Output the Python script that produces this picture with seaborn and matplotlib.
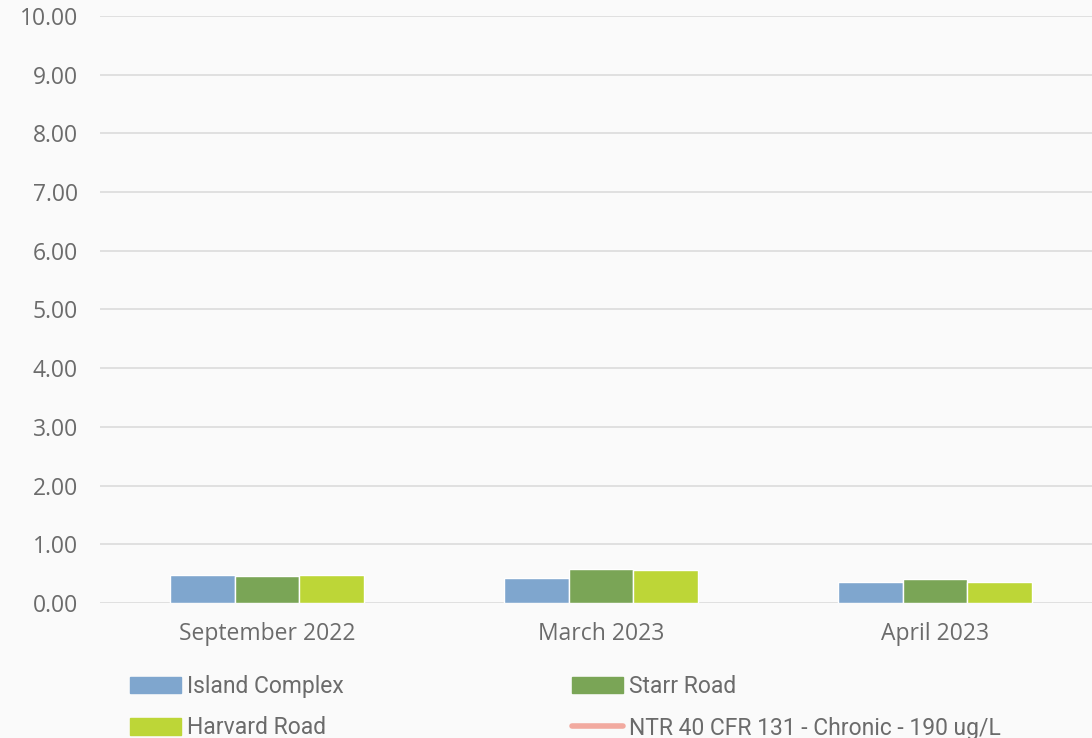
import matplotlib
matplotlib.use("Agg")
import matplotlib.pyplot as plt
import seaborn as sns
import pandas as pd
from matplotlib.patches import Patch
from matplotlib.lines import Line2D

categories = ["September 2022", "March 2023", "April 2023"]
series_names = ["Island Complex", "Starr Road", "Harvard Road"]
island_complex = [0.48, 0.43, 0.36]
starr_road = [0.46, 0.58, 0.41]
harvard_road = [0.47, 0.57, 0.35]
ntr_label = "NTR 40 CFR 131 - Chronic - 190 ug/L"
ntr_value = 190
colors = ["#7fa6ce", "#7aa556", "#bdd637"]
ntr_color = "#f2aaa0"
yticks = [0, 1, 2, 3, 4, 5, 6, 7, 8, 9, 10]

rows = []
for name, vals in zip(series_names, [island_complex, starr_road, harvard_road]):
    for c, v in zip(categories, vals):
        rows.append({"cat": c, "series": name, "value": v})
df = pd.DataFrame(rows)

sns.set_theme(style="white")
plt.rcParams["font.family"] = ["Open Sans", "DejaVu Sans"]
bg = "#fafafa"
txt = "#6b6b6b"

fig = plt.figure(figsize=(10.92, 7.38), dpi=100, facecolor=bg)
ax = fig.add_axes([100/1092, (738-603)/738, 1002/1092, (603-16)/738])
ax.set_facecolor(bg)

sns.barplot(data=df, x="cat", y="value", hue="series", order=categories,
            hue_order=series_names, palette=colors, width=0.58,
            saturation=1, ax=ax, legend=False, zorder=3)
ax.axhline(ntr_value, color=ntr_color, lw=4, zorder=4)

ax.set_ylim(0, 10)
ax.set_xlim(-0.5, 2.5)
ax.set_yticks(yticks)
ax.set_yticklabels([f"{t:.2f}" for t in yticks])
ax.grid(axis="y", color="#dedede", lw=1.3, zorder=0)
for s in ax.spines.values():
    s.set_visible(False)
ax.tick_params(axis="both", length=0, labelsize=16.5, colors=txt)
ax.tick_params(axis="y", pad=16)
ax.tick_params(axis="x", pad=13.5)
ax.set_xlabel("")
ax.set_ylabel("")

handles = [Patch(color=colors[0]), Patch(color=colors[2]), Patch(color=colors[1]),
           Line2D([0], [0], color=ntr_color, lw=4, solid_capstyle="round")]
labels = [series_names[0], series_names[2], series_names[1], ntr_label]
leg = fig.legend(handles, labels, ncol=2, loc="upper left",
                 bbox_to_anchor=(121/1092, 1 - 666/738), frameon=False,
                 prop={"family": ["Roboto", "DejaVu Sans"], "size": 16.5},
                 handlelength=2.2, handleheight=0.7, handletextpad=0.26,
                 columnspacing=10.0, labelspacing=0.8, borderaxespad=0)
for t in leg.get_texts():
    t.set_color(txt)

fig.savefig("out.png", dpi=100, facecolor=bg)
